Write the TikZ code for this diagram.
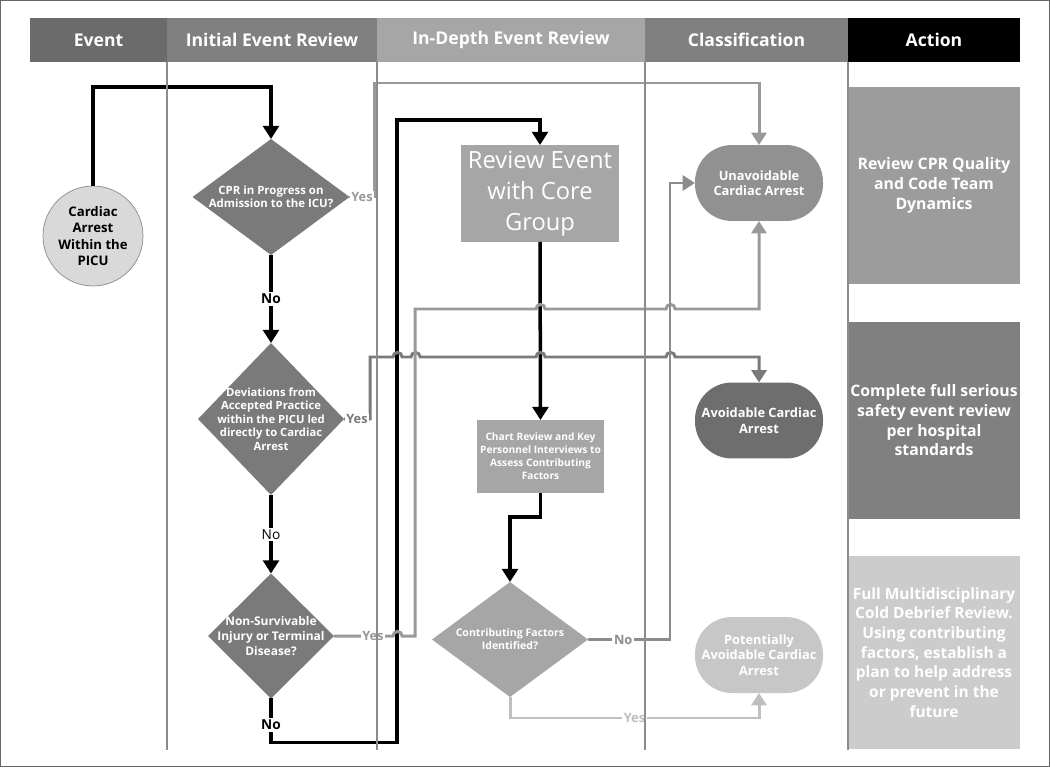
\documentclass[tikz,border=0pt]{standalone}
\usepackage{fontspec}
\setmainfont{Open Sans}
\usepackage{tikz}
\usetikzlibrary{calc,positioning,arrows.meta,shapes.geometric}
\newcommand{\hop}{arc[start angle=180,end angle=0,radius=2.6pt]}

\begin{document}
\begin{tikzpicture}[x=0.02cm, y=-0.02cm,
    every node/.style={outer sep=0pt, inner sep=0pt, align=center},
    head/.style={minimum height=0.88cm, text=white, font=\fontsize{10}{12}\selectfont\bfseries},
    lane/.style={draw=black!45, line width=0.6pt},
    dia/.style={diamond, fill=black!52},
    dtxt/.style={text=white, align=center},
    box/.style={rectangle, fill=black!35, text=white},
    cls/.style={rectangle, rounded corners=21pt, minimum width=2.56cm, minimum height=1.52cm, text=white, font=\fontsize{7.3}{8.8}\selectfont\bfseries},
    act/.style={rectangle, minimum width=3.44cm, minimum height=3.94cm, text=white, font=\fontsize{9}{11.2}\selectfont\bfseries},
    flow/.style={line width=2pt, color=black, -{Triangle[width=9pt,length=7.5pt]}},
    link/.style={line width=1.7pt, -{Triangle[width=8.5pt,length=7pt]}},
    lab/.style={fill=white, inner sep=1pt, font=\fontsize{7.3}{8.5}\selectfont\bfseries},
  ]
  \useasboundingbox (0,0) rectangle (1050,767);
  \draw[black!60, line width=1pt] (0.5,0.5) rectangle (1049.5,766.5);

  \node[head, fill=black!58, minimum width=2.74cm] (hEvent) at (98.5,40) {Event};
  \node[head, fill=black!50, minimum width=4.2cm] (hInit) at (272,40) {Initial Event Review};
  \node[head, fill=black!35, minimum width=5.36cm] (hDepth) at (511,40) {In-Depth Event Review};
  \node[head, fill=black!50, minimum width=4.06cm] (hClass) at (746.5,40) {Classification};
  \node[head, fill=black, minimum width=3.44cm] (hAct) at (934,40) {Action};

  \node[circle, draw=black!45, fill=black!15, minimum size=2cm, font=\fontsize{7.5}{9.3}\selectfont\bfseries] (start) at (93,236) {Cardiac\\Arrest\\Within the\\PICU};

  \node[dia, minimum width=3.14cm, minimum height=2.32cm,
    label={[dtxt, font=\fontsize{6.5}{7.6}\selectfont\bfseries]center:CPR in Progress on\\Admission to the ICU?}] (d1) at (271,197) {};
  \node[dia, minimum width=2.92cm, minimum height=3.04cm,
    label={[dtxt, font=\fontsize{6.4}{7.7}\selectfont\bfseries]center:Deviations from\\Accepted Practice\\within the PICU led\\directly to Cardiac\\Arrest}] (d2) at (271,419) {};
  \node[dia, minimum width=2.52cm, minimum height=2.5cm,
    label={[dtxt, font=\fontsize{6.8}{8.5}\selectfont\bfseries]center:Non-Survivable\\Injury or Terminal\\Disease?}] (d3) at (271,636) {};

  \node[box, minimum width=3.16cm, minimum height=1.94cm, font=\fontsize{13.5}{17.5}\selectfont] (rev) at (540,193.5) {Review Event\\with Core\\Group};
  \node[box, minimum width=2.54cm, minimum height=1.46cm, font=\fontsize{5.8}{7.4}\selectfont\bfseries] (chart) at (540.5,456.5) {Chart Review and Key\\Personnel Interviews to\\Assess Contributing\\Factors};
  \node[dia, fill=black!35, minimum width=3.12cm, minimum height=2.3cm,
    label={[dtxt, font=\fontsize{6}{7.4}\selectfont\bfseries]center:Contributing Factors\\Identified?}] (d4) at (510,639.5) {};

  \node[cls, fill=black!43] (unav) at (759,183) {Unavoidable\\Cardiac Arrest};
  \node[cls, fill=black!57] (avo) at (759,420.5) {Avoidable Cardiac\\Arrest};
  \node[cls, fill=black!22] (pot) at (759,655) {Potentially\\Avoidable Cardiac\\Arrest};

  \node[act, fill=black!39] (act1) at (934,185.5) {Review CPR Quality\\and Code Team\\Dynamics};
  \node[act, fill=black!50] (act2) at (934,420.5) {Complete full serious\\safety event review\\per hospital\\standards};
  \node[act, fill=black!20, minimum height=3.86cm, font=\fontsize{8.8}{11.2}\selectfont\bfseries] (act3) at (934,652.5) {Full Multidisciplinary\\Cold Debrief Review.\\Using contributing\\factors, establish a\\plan to help address\\or prevent in the\\future};

  \draw[flow] (start.north) -- ++(0,-99) -| (d1.north);
  \draw[flow] (d1.south) -- node[lab, font=\fontsize{7.8}{9}\selectfont\bfseries]{No} (d2.north);
  \draw[flow] (d2.south) -- node[lab, font=\fontsize{7.8}{9}\selectfont]{No} (d3.north);
  \draw[flow] (d3.south) -- node[lab, pos=0.6, font=\fontsize{7.8}{9}\selectfont\bfseries]{No} ++(0,44) -| (397,120) -| (rev.north);
  \draw[flow] (rev.south) -- (chart.north);
  \draw[flow] (chart.south) -- ++(0,24) -| (d4.north);

  \draw[link, color=black!40] (d1.east) -- node[lab]{Yes} ++(25,0) -- ++(0,-114) -| (unav.north);
  \draw[link, color=black!52] (d2.east) -- node[lab]{Yes} (370,419) -- (370,357) -- (393,357) \hop -- (411,357) \hop
    -- (536,357) \hop -- (666,357) \hop -| (avo.north);
  \draw[link, color=black!40] (d3.east) -- node[lab, pos=0.66]{Yes} (393,636) \hop -- (415,636) -- (415,309)
    -- (536,309) \hop -- (666,309) \hop -| (unav.south);
  \draw[link, color=black!45] (d4.east) -- node[lab, pos=0.43]{No} ++(82,0) |- (unav.west);
  \draw[link, color=black!25] (d4.south) -- ++(0,21) -| node[lab, pos=0.25]{Yes} (pot.south);

  \foreach \x in {167,377,645,848}
    \draw[lane] (\x,62) -- (\x,750);
\end{tikzpicture}
\end{document}
